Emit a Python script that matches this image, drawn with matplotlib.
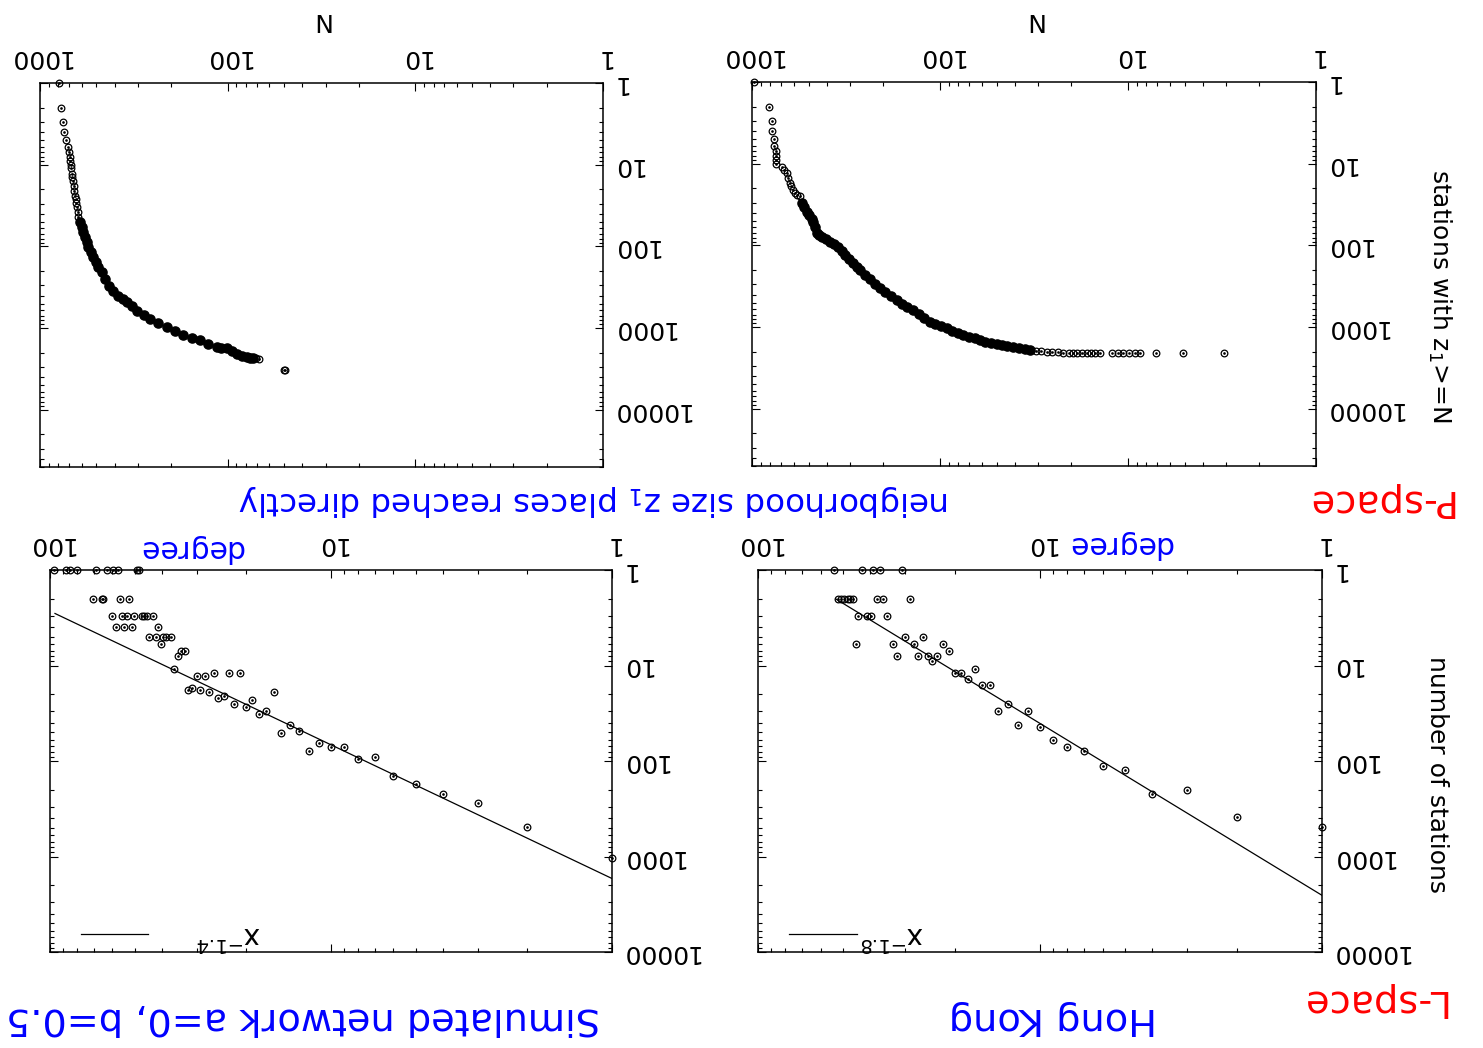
import matplotlib
matplotlib.use("Agg")
import matplotlib.pyplot as plt
from matplotlib.ticker import LogLocator, NullFormatter, FuncFormatter

# P-space, Hong Kong: N (neighbourhood size) and stations with z1 >= N
hk_p_N = [972, 812, 786, 784, 767, 765, 748, 745, 743, 742,
          695, 673, 654, 641, 628, 617, 603, 591, 573, 556, 544, 529, 512, 498,
          481, 472, 462, 453, 440, 426, 404, 385, 366, 348, 333, 320, 305, 289,
          277, 266, 251, 236, 222, 208, 196, 183, 170, 159, 149, 139, 129, 121,
          113, 106, 98.8, 92.1, 86.4, 80.7, 75.2, 70.1, 65.5, 61.3, 57.3, 53.6,
          49.9, 46.8, 43.8, 40.7, 38.0, 35.5, 33.2, 31.0, 29.0, 27.1, 25.4, 23.7,
          22.1, 20.7, 19.6, 18.6, 17.6, 16.6, 15.7, 14.9, 14.1,
          12.1, 11.3, 10.6, 9.9, 9.2, 8.6, 7.1, 5.1, 3.1]
hk_p_c = [1, 2, 3, 4, 5, 6, 7, 8, 9, 10,
          11, 12, 13, 15, 17, 19, 21, 23, 24, 25, 30, 34, 39, 42,
          47, 52, 59, 71, 75, 78, 84, 90, 97, 104, 117, 131, 147, 166,
          182, 200, 227, 258, 293, 335, 372, 411, 466, 514, 563, 618, 691, 774,
          859, 917, 975, 1034, 1101, 1174, 1250, 1311, 1375, 1439, 1501, 1557,
          1610, 1666, 1718, 1767, 1813, 1859, 1907, 1945, 1972, 2000, 2017, 2040,
          2057, 2065, 2070, 2073, 2076, 2078, 2080, 2082, 2084,
          2086, 2087, 2088, 2089, 2090, 2091, 2092, 2093, 2094]

# P-space, simulated network
sim_p_N = [791, 772, 756, 741, 729, 706, 697, 692, 689, 686,
           683, 677, 675, 669, 662, 656, 650, 645, 641, 637, 630, 624, 612, 599,
           587, 575, 563, 552, 536, 519, 504, 489, 469, 450, 431, 408, 384, 363,
           342, 323, 304, 279, 259, 235, 211, 191, 172, 155, 140, 127, 114, 108,
           101, 95, 89.4, 84.1, 79.1, 76.0, 73.0, 70.6, 68.0, 50.1, 49.5]
sim_p_c = [1, 2, 3, 4, 5, 6, 7, 8, 9, 10,
           11, 13, 14, 16, 18, 21, 24, 26, 29, 33, 38, 44, 50, 58,
           67, 77, 88, 102, 117, 135, 155, 179, 206, 251, 305, 352, 405, 440,
           483, 536, 612, 691, 774, 866, 978, 1085, 1215, 1304, 1387, 1543, 1718, 1728,
           1752, 1907, 2075, 2196, 2278, 2323, 2343, 2350, 2355, 3230, 3260]

# L-space, Hong Kong: degree k and number of stations
hk_l_k = [53.8, 42.8, 39.2, 36.9, 30.9,
          51.9, 50.8, 49.4, 48.1, 47.2, 46.2, 37.9, 35.9, 28.9,
          44.1, 41.2, 39.8, 35.0,
          44.9, 33.1, 28.0, 22.0,
          32.1, 27.0, 25.0, 23.1,
          30.1, 26.1, 24.1, 21.0, 20.0, 19.1, 18.0, 17.0, 16.0, 15.0,
          14.1, 13.0, 12.0, 11.0, 10.0, 9, 8, 7, 6, 5, 4, 3, 2, 1]
hk_l_c = [1, 1, 1, 1, 1,
          2, 2, 2, 2, 2, 2, 2, 2, 2,
          3, 3, 3, 3,
          6, 6, 6, 6,
          8, 8, 8, 8,
          5, 5, 9, 7, 12, 12, 14, 11, 16, 16,
          30, 25, 42, 30, 44, 61, 71, 79, 113, 125, 219, 203, 382, 494]

# L-space, simulated network
sim_l_k = [96.5, 87.9, 84.9, 80.4, 68.6, 62.5, 59.5, 57.4, 49.1, 48.2,
           70.5, 65.5, 64.6, 56.3, 52.2,
           60.3, 55.3, 53.3, 50.3, 47.2, 46.2, 45.3, 43.1,
           58.4, 54.4, 51.2, 41.2,
           44.3, 42.1, 39.5, 38.5, 37.2,
           40.3, 34.2, 33.1, 35.1, 36.2, 26.1, 23.1, 21.0, 30.1, 28.1,
           32.2, 31.2, 29.2, 27.1, 25.2, 24.0, 22.1, 20.1, 19.1, 18.0, 17.0, 16.0,
           15.1, 14.0, 13.0, 12.0, 11.0, 10.0, 9.0, 8, 7, 6, 5, 4, 3, 2, 1]
sim_l_c = [1, 1, 1, 1, 1, 1, 1, 1, 1, 1,
           2, 2, 2, 2, 2,
           3, 3, 3, 3, 3, 3, 3, 3,
           4, 4, 4, 4,
           5, 5, 5, 5, 5,
           6, 7, 7, 8, 11, 12, 12, 12, 13, 13,
           18, 17, 18, 19, 22, 21, 25, 27, 23, 32, 30, 19,
           51, 42, 49, 78, 65, 71, 72, 95, 91, 143, 174, 222, 275, 491, 1037]

# power-law fits: amplitude, exponent, largest degree drawn
hk_fit = (2550, 1.8, 53)
sim_fit = (1700, 1.4, 96)

W, H = 1483, 1048


def fig_box(x0, y0, x1, y1):
    return [x0 / W, 1 - y1 / H, (x1 - x0) / W, (y1 - y0) / H]


def setup_axes(ax, xmax, ymax):
    ax.set_xscale("log")
    ax.set_yscale("log")
    ax.set_xlim(xmax, 1)
    ax.set_ylim(ymax, 1)
    ax.xaxis.tick_top()
    ax.yaxis.tick_right()
    for axis in (ax.xaxis, ax.yaxis):
        axis.set_major_locator(LogLocator(base=10, numticks=12))
        axis.set_minor_locator(LogLocator(base=10, subs=range(2, 10), numticks=12))
        axis.set_major_formatter(FuncFormatter(lambda v, p: "{:g}".format(v)))
        axis.set_minor_formatter(NullFormatter())
    ax.tick_params(which="both", direction="in", top=True, bottom=True,
                   left=True, right=True, labeltop=True, labelbottom=False,
                   labelright=True, labelleft=False, labelrotation=180,
                   width=0.8)
    ax.tick_params(which="major", length=5.5, labelsize=18)
    ax.tick_params(axis="x", which="major", pad=10)
    ax.tick_params(axis="y", which="major", pad=6)
    ax.tick_params(which="minor", length=2.8)
    for s in ax.spines.values():
        s.set_linewidth(1.1)


def scatter(ax, x, y, dense=None):
    ax.plot(x, y, ls="none", marker="o", mfc="none", mec="black",
            ms=4.8, mew=0.9, clip_on=False)
    ax.plot(x, y, ls="none", marker="o", color="black", ms=0.9, clip_on=False)
    if dense:
        # where hundreds of rings pile up the curve reads as a solid band
        lo, hi = dense
        xd = [a for a, b in zip(x, y) if lo <= b <= hi]
        yd = [b for b in y if lo <= b <= hi]
        ax.plot(xd, yd, ls="none", marker="o", mfc="black", mec="black",
                ms=6.6, mew=1.0, clip_on=False)


def fit(ax, params, label, tx):
    amp, p, kmax = params
    ks = [1, kmax]
    ax.plot(ks, [amp * k ** -p for k in ks], color="black", lw=0.9)
    ax.plot([0.055, 0.175], [0.047, 0.047], transform=ax.transAxes,
            color="black", lw=0.9)
    ax.text(tx, 0.045, label, transform=ax.transAxes, rotation=180,
            ha="center", va="center", fontsize=20)


fig = plt.figure(figsize=(W / 100, H / 100), dpi=100)

ax_tl = fig.add_axes(fig_box(40, 83, 603, 467))
setup_axes(ax_tl, 1000, 5e4)
scatter(ax_tl, sim_p_N, sim_p_c, dense=(45, 2345))

ax_tr = fig.add_axes(fig_box(752, 82, 1316, 466))
setup_axes(ax_tr, 1000, 5e4)
scatter(ax_tr, hk_p_N, hk_p_c, dense=(28, 1910))

ax_bl = fig.add_axes(fig_box(50, 570, 612, 952))
setup_axes(ax_bl, 100, 10000)
scatter(ax_bl, sim_l_k, sim_l_c)
fit(ax_bl, sim_fit, r"x$^{-1.4}$", 0.317)

ax_br = fig.add_axes(fig_box(758, 570, 1322, 952))
setup_axes(ax_br, 100, 10000)
scatter(ax_br, hk_l_k, hk_l_c)
fit(ax_br, hk_fit, r"x$^{-1.8}$", 0.238)

blue = "#0000ff"
red = "#ff0000"


def ftext(x, y, s, size, color="black", rot=180):
    fig.text(x / W, 1 - y / H, s, rotation=rot, ha="center", va="center",
             fontsize=size, color=color)


ftext(320, 20, "N", 18)
ftext(1033, 20, "N", 18)
ftext(1440, 296, r"stations with z$_1$>=N", 18, rot=270)
ftext(1437, 775, "number of stations", 18, rot=270)
ftext(1378, 500, "P-space", 27.5, red)
ftext(594, 500, r"neigborhood size z$_1$ places reached directly", 23.4, blue)
ftext(191, 548, "degree", 21.5, blue)
ftext(1120, 545, "degree", 21.5, blue)
ftext(1372, 1000, "L-space", 27.5, red)
ftext(1053, 1018, "Hong Kong", 27.5, blue)
ftext(303, 1018, "Simulated network a=0, b=0.5", 27.5, blue)

# upside-down labels: centre them on the tick instead of on the baseline
fig.canvas.draw()
for ax in (ax_tl, ax_tr, ax_bl, ax_br):
    for lbl in ax.get_yticklabels():
        lbl.set_verticalalignment("center")

fig.savefig("out.png", dpi=100)
